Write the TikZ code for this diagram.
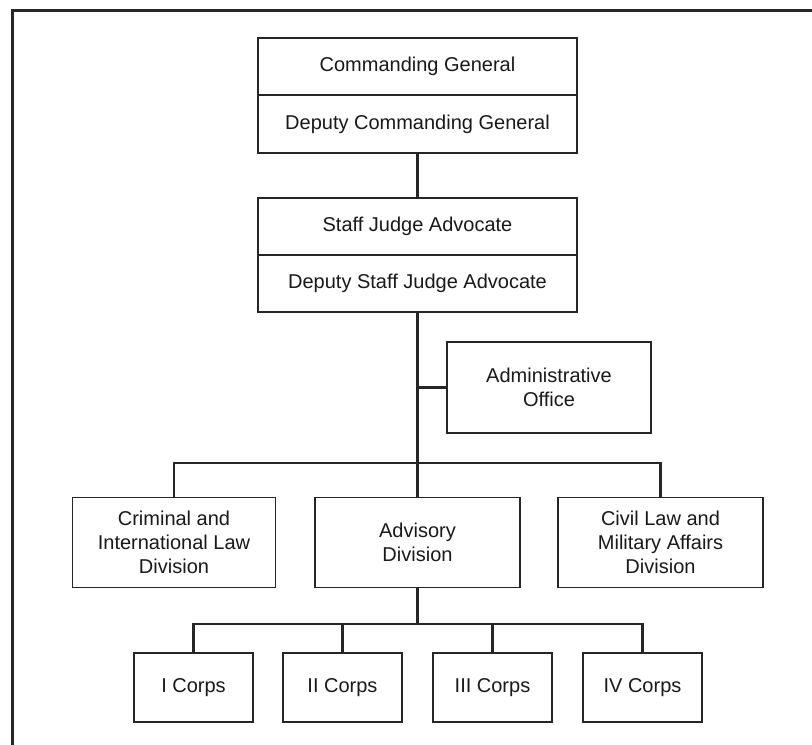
\documentclass[tikz,border=0pt]{standalone}
\usepackage{fontspec}
\setmainfont{Liberation Sans}
\begin{document}
\begin{tikzpicture}[x=1pt,y=-1pt,
  box/.style={draw=black!85,line width=1.6pt,rectangle,inner sep=0pt,align=center,
    text=black!90,font=\fontsize{20}{24}\selectfont},
  link/.style={draw=black!85,line width=2.8pt},
  frame/.style={draw=black!85,line width=3pt}]
\useasboundingbox (0,0) rectangle (812,745);
\fill[white] (0,0) rectangle (812,745);
\coordinate (fbl) at (12,760);
\coordinate (ftl) at (12,10);
\coordinate (ftr) at (830,10);
\draw[frame] (fbl) -- (ftl) -- (ftr);
% top
\node[box,minimum width=319pt,minimum height=57pt] (cg) at (417.5,66.5) {Commanding General};
\node[box,minimum width=319pt,minimum height=58pt] (dcg) at (417.5,124) {Deputy Commanding General};
\node[box,minimum width=319pt,minimum height=57pt] (sja) at (417.5,226.5) {Staff Judge Advocate};
\node[box,minimum width=319pt,minimum height=57pt] (dsja) at (417.5,283.5) {Deputy Staff Judge Advocate};
\node[box,minimum width=204pt,minimum height=91pt] (adm) at (549,387.5) {Administrative\\Office};
% divisions
\node[box,minimum width=203pt,minimum height=90pt] (crim) at (174,542.5) {Criminal and\\International Law\\Division};
\node[box,minimum width=205pt,minimum height=90pt] (adv) at (417.5,542.5) {Advisory\\Division};
\node[box,minimum width=205pt,minimum height=90pt] (civ) at (660.5,542.5) {Civil Law and\\Military Affairs\\Division};
% corps
\node[box,minimum width=119pt,minimum height=69pt] (c1) at (193.5,687.5) {I Corps};
\node[box,minimum width=119pt,minimum height=69pt] (c2) at (342.5,687.5) {II Corps};
\node[box,minimum width=119pt,minimum height=69pt] (c3) at (492.5,687.5) {III Corps};
\node[box,minimum width=119pt,minimum height=69pt] (c4) at (642.5,687.5) {IV Corps};
% connectors
\coordinate (bus1) at (0,463);
\coordinate (bus2) at (0,624);
\draw[link] (dcg.south) -- (sja.north);
\draw[link] (dsja.south) -- (adv.north);
\draw[link] (dsja.south |- adm.west) -- (adm.west);
\draw[link] (crim.north) |- (civ.north |- bus1) -- (civ.north);
\draw[link] (adv.south) -- (adv.south |- bus2);
\draw[link] (c1.north) |- (c4.north |- bus2) -- (c4.north);
\draw[link] (c2.north) -- (c2.north |- bus2);
\draw[link] (c3.north) -- (c3.north |- bus2);
\end{tikzpicture}
\end{document}
